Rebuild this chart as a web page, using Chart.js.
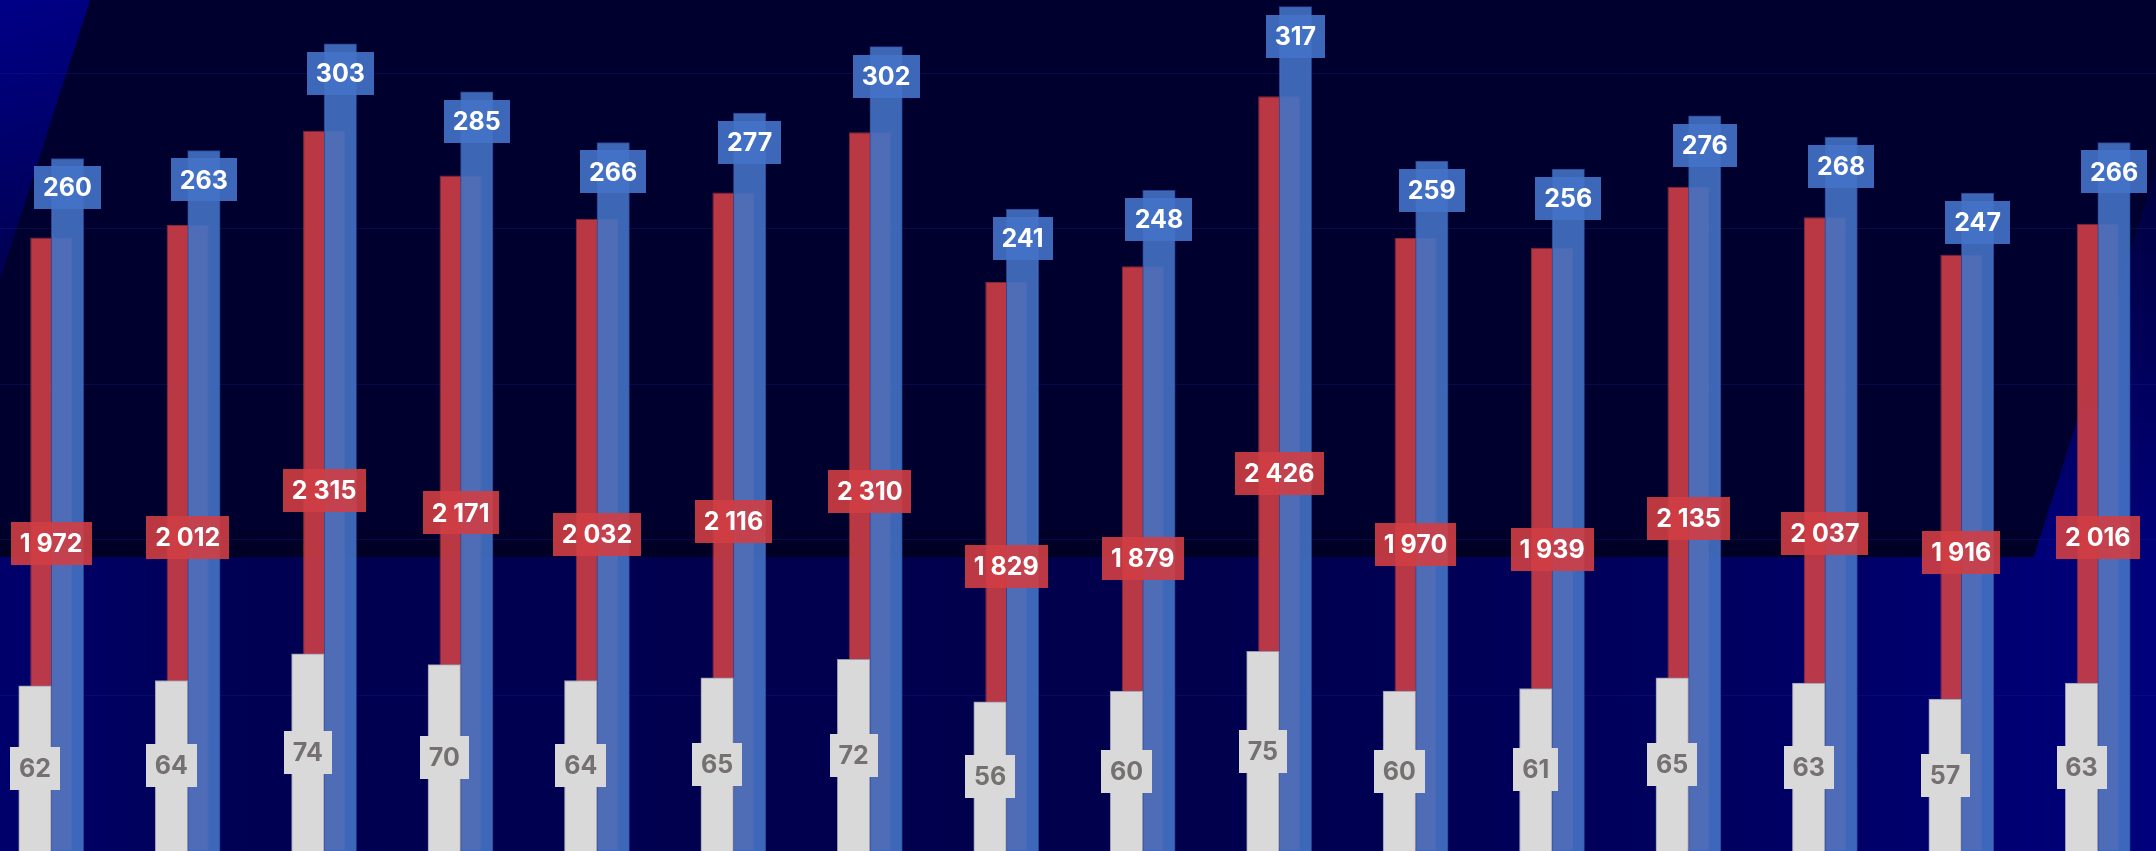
<!DOCTYPE html>
<html>
<head>
<meta charset="utf-8">
<script src="https://cdn.jsdelivr.net/npm/chart.js@4.4.0/dist/chart.umd.min.js"></script>
<style>
	html, body { margin: 0; padding: 0; width: 2156px; height: 851px; overflow: hidden; background: #00002f; position: relative; }
	.bg { position: absolute; }
	#bg-low { left: 0; top: 557px; width: 2156px; height: 294px; background: linear-gradient(to right, #00006c 0%, #000052 12%, #00004c 55%, #000060 80%, #00007c 100%); }
	#bg-shade { left: 0; top: 520px; width: 2156px; height: 37px; background: linear-gradient(to bottom, rgba(0,0,20,0) 0%, rgba(0,0,20,0.45) 100%); }
	#bg-left { left: 0; top: 0; width: 100px; height: 290px; clip-path: polygon(0 0, 90px 0, 0 280px); background: linear-gradient(160deg, #000088 0%, #000062 60%, #000048 100%); }
	#bg-right { left: 2030px; top: 170px; width: 126px; height: 390px; clip-path: polygon(3px 390px, 126px 0, 126px 390px); background: linear-gradient(to bottom, rgba(0,0,120,0.2) 0%, #00007a 100%); }
	#wrap { position: absolute; left: -17px; top: 0; width: 2183px; height: 851px; }
</style>
</head>
<body>
<div class="bg" id="bg-shade"></div>
<div class="bg" id="bg-low"></div>
<div class="bg" id="bg-left"></div>
<div class="bg" id="bg-right"></div>
<div id="wrap"><canvas id="chart"></canvas></div>
<script>
var categories = ['1', '2', '3', '4', '5', '6', '7', '8', '9', '10', '11', '12', '13', '14', '15', '16'];
var grayValues = [62, 64, 74, 70, 64, 65, 72, 56, 60, 75, 60, 61, 65, 63, 57, 63];
var redValues = [1972, 2012, 2315, 2171, 2032, 2116, 2310, 1829, 1879, 2426, 1970, 1939, 2135, 2037, 1916, 2016];
var blueValues = [260, 263, 303, 285, 266, 277, 302, 241, 248, 317, 259, 256, 276, 268, 247, 266];
var redGridTicks = [0, 500, 1000, 1500, 2000, 2500];

//"1 972" style thousands separator
function fmt(v) {
	return String(v).replace(/\B(?=(\d{3})+(?!\d))/g, ' ');
}

//boxed value labels, drawn after all bars
var boxLabels = {
	id: 'boxLabels',
	afterDatasetsDraw: function(chart) {
		var ctx = chart.ctx;
		var boxColors = ['#d9d9d9', 'rgba(208,62,68,0.9)', 'rgba(68,114,200,0.9)'];
		var textColors = ['#767171', '#ffffff', '#ffffff'];
		ctx.save();
		ctx.font = '700 25px Inter';
		ctx.textAlign = 'center';
		ctx.textBaseline = 'middle';
		for (var di = 0; di < 3; di++) {
			var meta = chart.getDatasetMeta(di);
			var data = chart.data.datasets[di].data;
			for (var i = 0; i < meta.data.length; i++) {
				var bar = meta.data[i];
				var text = fmt(data[i]);
				var w = Math.round(ctx.measureText(text).width + 18);
				//blue labels sit at the top of the bar, the others in the middle
				var cy = (di === 2) ? bar.y + 8 + 21.5 : (bar.y + bar.base) / 2;
				ctx.fillStyle = boxColors[di];
				ctx.fillRect(Math.round(bar.x - w / 2), Math.round(cy - 21.5), w, 43);
				ctx.fillStyle = textColors[di];
				ctx.fillText(text, bar.x, cy + 1);
			}
		}
		ctx.restore();
	}
};

var chart = new Chart(document.getElementById('chart'), {
	type: 'bar',
	data: {
		labels: categories,
		datasets: [
		{
			label: 'gray',
			data: grayValues,
			yAxisID: 'y',
			order: 0,
			barThickness: 32.5,
			backgroundColor: '#d9d9d9',
			borderColor: 'rgba(150,150,175,1)',
			borderWidth: 1
		},
		{
			//red sits centred in the category, behind the other two
			label: 'red',
			data: redValues,
			yAxisID: 'yr',
			order: 1,
			grouped: false,
			categoryPercentage: 1,
			barPercentage: 0.308,
			backgroundColor: 'rgba(205,62,70,0.9)',
			borderColor: 'rgba(150,40,60,0.9)',
			borderWidth: 1
		},
		{
			label: 'blue',
			data: blueValues,
			yAxisID: 'y',
			order: 0,
			barThickness: 32.5,
			backgroundColor: 'rgba(68,114,196,0.9)',
			borderColor: 'rgba(40,70,150,0.9)',
			borderWidth: 1
		}
		]
	},
	options: {
		responsive: true,
		maintainAspectRatio: false,
		animation: false,
		layout: { padding: 0 },
		plugins: {
			legend: { display: false },
			tooltip: { enabled: false }
		},
		scales: {
			x: { type: 'category', offset: true, display: false },
			y: { type: 'linear', display: false, min: 0, max: 319.5 },
			yr: {
				type: 'linear',
				axis: 'y',
				position: 'right',
				min: 0,
				max: 2735,
				afterBuildTicks: function(scale) {
					scale.ticks = redGridTicks.map(function(v) { return { value: v }; });
				},
				border: { display: false },
				ticks: { display: false },
				grid: { color: 'rgba(30,30,150,0.3)', drawTicks: false, lineWidth: 1 }
			}
		}
	},
	plugins: [boxLabels]
});
</script>
</body>
</html>
